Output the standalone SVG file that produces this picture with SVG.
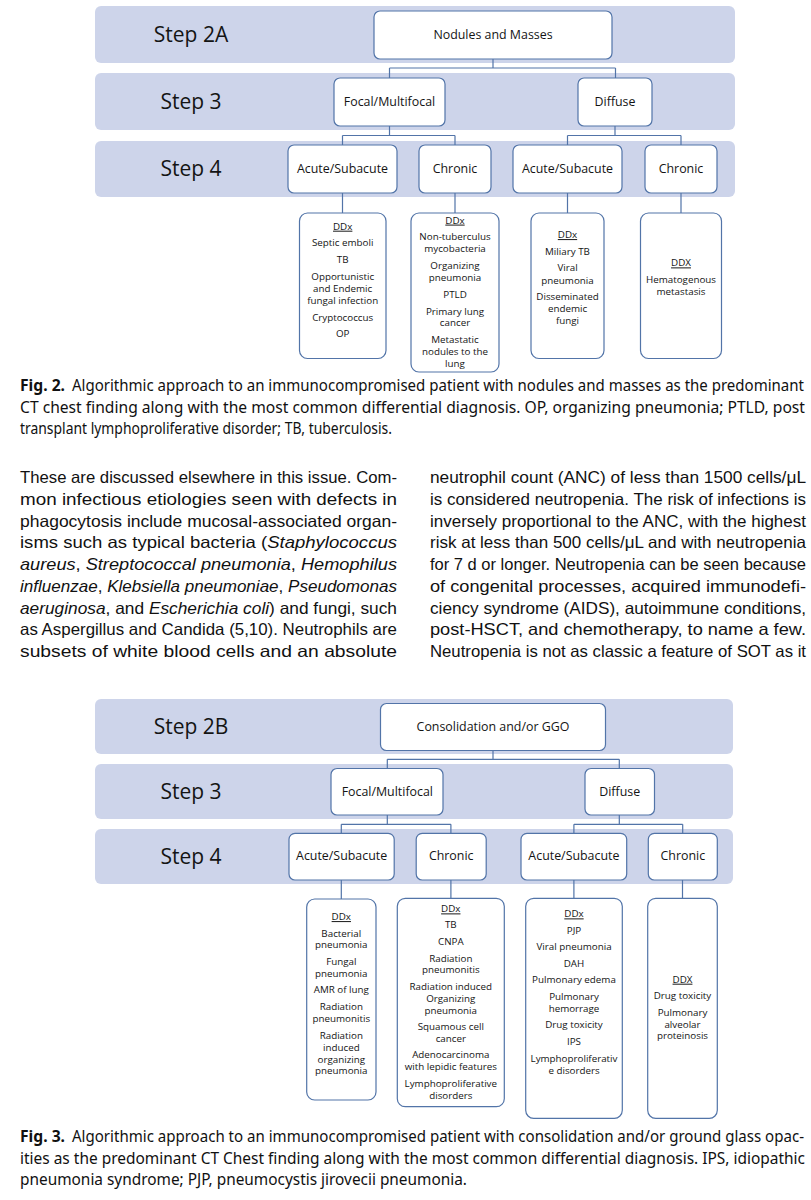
<svg xmlns="http://www.w3.org/2000/svg" width="811" height="1200" viewBox="0 0 811 1200">
<style>
.bg{fill:#ffffff}
.band{fill:#cdd4ea}
.box{fill:#ffffff;stroke:#5274a8;stroke-width:1.2}
.conn path{stroke:#5274a8;stroke-width:1.2;fill:none}
.step{font-family:"Open Sans","Noto Sans",sans-serif;font-size:21px;fill:#141414;text-anchor:middle}
.lbl{font-family:"Open Sans","Noto Sans",sans-serif;font-size:12.4px;fill:#141414;text-anchor:middle}
.dd{font-family:"Open Sans","Noto Sans",sans-serif;font-size:9.8px;fill:#141414;text-anchor:middle}
.u{text-decoration:underline}
.cap{font-family:"Noto Sans","Open Sans",sans-serif;font-size:15.5px;fill:#111}
.body{font-family:"Liberation Sans",Arial,sans-serif;font-size:16.5px;fill:#111}
.b{font-weight:bold}
.i{font-style:italic}
</style>
<rect class="bg" x="0" y="0" width="811" height="1200"/>

<!-- ===== Figure 2 ===== -->
<g id="fig2-bands">
<rect class="band" x="95" y="6" width="640" height="57" rx="6"/>
<rect class="band" x="95" y="73" width="640" height="57" rx="6"/>
<rect class="band" x="95" y="141" width="640" height="56" rx="6"/>
<text class="step" x="191" y="41.5">Step 2A</text>
<text class="step" x="191" y="109">Step 3</text>
<text class="step" x="191" y="176">Step 4</text>
</g>

<g id="fig2-connectors" class="conn">
<path d="M493 59V68M389.5 68H615.5M389.5 68V78M615.5 68V78"/>
<path d="M389.5 126V135.5M342.5 135.5H455M342.5 135.5V145M455 135.5V145"/>
<path d="M615 126V135.5M567.5 135.5H681M567.5 135.5V145M681 135.5V145"/>
<path d="M342.5 193V213M455 193V213M567.5 193V213M681 193V213"/>
</g>

<g id="f2-nodules"><rect class="box" x="374" y="11" width="238" height="48" rx="6"/><text class="lbl" x="493" y="39">Nodules and Masses</text></g>
<g id="f2-focal"><rect class="box" x="334" y="78" width="111" height="48" rx="6"/><text class="lbl" x="389.5" y="106">Focal/Multifocal</text></g>
<g id="f2-diffuse"><rect class="box" x="578" y="78" width="74" height="48" rx="6"/><text class="lbl" x="615" y="106">Diffuse</text></g>
<g id="f2-acute1"><rect class="box" x="288" y="145" width="109" height="48" rx="6"/><text class="lbl" x="342.5" y="172.7">Acute/Subacute</text></g>
<g id="f2-chronic1"><rect class="box" x="419" y="145" width="72" height="48" rx="6"/><text class="lbl" x="455" y="172.7">Chronic</text></g>
<g id="f2-acute2"><rect class="box" x="513" y="145" width="109" height="48" rx="6"/><text class="lbl" x="567.5" y="172.7">Acute/Subacute</text></g>
<g id="f2-chronic2"><rect class="box" x="645" y="145" width="72" height="48" rx="6"/><text class="lbl" x="681" y="172.7">Chronic</text></g>

<g id="f2-ddx1"><rect class="box" x="299.5" y="213" width="86.5" height="145.5" rx="8"/>
<text class="dd u" x="342.7" y="229.7">DDx</text>
<text class="dd" x="342.7" y="246.2">Septic emboli</text>
<text class="dd" x="342.7" y="263">TB</text>
<text class="dd" x="342.7" y="279.5">Opportunistic</text>
<text class="dd" x="342.7" y="292">and Endemic</text>
<text class="dd" x="342.7" y="303.7">fungal infection</text>
<text class="dd" x="342.7" y="320.6">Cryptococcus</text>
<text class="dd" x="342.7" y="337.1">OP</text>
</g>
<g id="f2-ddx2"><rect class="box" x="411" y="213" width="88" height="159" rx="8"/>
<text class="dd u" x="455" y="223.6">DDx</text>
<text class="dd" x="455" y="240.4">Non-tuberculus</text>
<text class="dd" x="455" y="252.2">mycobacteria</text>
<text class="dd" x="455" y="269.1">Organizing</text>
<text class="dd" x="455" y="281.2">pneumonia</text>
<text class="dd" x="455" y="298">PTLD</text>
<text class="dd" x="455" y="314.5">Primary lung</text>
<text class="dd" x="455" y="326.3">cancer</text>
<text class="dd" x="455" y="342.8">Metastatic</text>
<text class="dd" x="455" y="354.6">nodules to the</text>
<text class="dd" x="455" y="367.4">lung</text>
</g>
<g id="f2-ddx3"><rect class="box" x="531" y="213" width="73" height="145.5" rx="8"/>
<text class="dd u" x="567.5" y="238.1">DDx</text>
<text class="dd" x="567.5" y="254.9">Miliary TB</text>
<text class="dd" x="567.5" y="271.4">Viral</text>
<text class="dd" x="567.5" y="283.5">pneumonia</text>
<text class="dd" x="567.5" y="300.4">Disseminated</text>
<text class="dd" x="567.5" y="311.8">endemic</text>
<text class="dd" x="567.5" y="323.6">fungi</text>
</g>
<g id="f2-ddx4"><rect class="box" x="640.5" y="213" width="81" height="145.5" rx="8"/>
<text class="dd u" x="681" y="266.4">DDX</text>
<text class="dd" x="681" y="283.2">Hematogenous</text>
<text class="dd" x="681" y="294.6">metastasis</text>
</g>

<g id="fig2-caption">
<text class="cap b" x="20" y="391" textLength="45" lengthAdjust="spacingAndGlyphs">Fig. 2.</text>
<text class="cap" x="72" y="391" textLength="732" lengthAdjust="spacingAndGlyphs">Algorithmic approach to an immunocompromised patient with nodules and masses as the predominant</text>
<text class="cap" x="20" y="412.5" textLength="785" lengthAdjust="spacingAndGlyphs">CT chest finding along with the most common differential diagnosis. OP, organizing pneumonia; PTLD, post</text>
<text class="cap" x="20" y="434" textLength="372" lengthAdjust="spacingAndGlyphs">transplant lymphoproliferative disorder; TB, tuberculosis.</text>
</g>

<!-- ===== Body text ===== -->
<g id="body-left">
<text class="body" x="20" y="483" textLength="377" lengthAdjust="spacingAndGlyphs">These are discussed elsewhere in this issue. Com-</text>
<text class="body" x="20" y="504.75" textLength="377" lengthAdjust="spacingAndGlyphs">mon infectious etiologies seen with defects in</text>
<text class="body" x="20" y="526.5" textLength="377" lengthAdjust="spacingAndGlyphs">phagocytosis include mucosal-associated organ-</text>
<text class="body" x="20" y="548.25" textLength="377" lengthAdjust="spacingAndGlyphs">isms such as typical bacteria (<tspan class="i">Staphylococcus</tspan></text>
<text class="body" x="20" y="570" textLength="377" lengthAdjust="spacingAndGlyphs"><tspan class="i">aureus</tspan>, <tspan class="i">Streptococcal pneumonia</tspan>, <tspan class="i">Hemophilus</tspan></text>
<text class="body" x="20" y="591.75" textLength="377" lengthAdjust="spacingAndGlyphs"><tspan class="i">influenzae</tspan>, <tspan class="i">Klebsiella pneumoniae</tspan>, <tspan class="i">Pseudomonas</tspan></text>
<text class="body" x="20" y="613.5" textLength="377" lengthAdjust="spacingAndGlyphs"><tspan class="i">aeruginosa</tspan>, and <tspan class="i">Escherichia coli</tspan>) and fungi, such</text>
<text class="body" x="20" y="635.25" textLength="377" lengthAdjust="spacingAndGlyphs">as Aspergillus and Candida (5,10). Neutrophils are</text>
<text class="body" x="20" y="657" textLength="377" lengthAdjust="spacingAndGlyphs">subsets of white blood cells and an absolute</text>
</g>
<g id="body-right">
<text class="body" x="430" y="483" textLength="376" lengthAdjust="spacingAndGlyphs">neutrophil count (ANC) of less than 1500 cells/μL</text>
<text class="body" x="430" y="504.75" textLength="376" lengthAdjust="spacingAndGlyphs">is considered neutropenia. The risk of infections is</text>
<text class="body" x="430" y="526.5" textLength="376" lengthAdjust="spacingAndGlyphs">inversely proportional to the ANC, with the highest</text>
<text class="body" x="430" y="548.25" textLength="376" lengthAdjust="spacingAndGlyphs">risk at less than 500 cells/μL and with neutropenia</text>
<text class="body" x="430" y="570" textLength="376" lengthAdjust="spacingAndGlyphs">for 7 d or longer. Neutropenia can be seen because</text>
<text class="body" x="430" y="591.75" textLength="376" lengthAdjust="spacingAndGlyphs">of congenital processes, acquired immunodefi-</text>
<text class="body" x="430" y="613.5" textLength="376" lengthAdjust="spacingAndGlyphs">ciency syndrome (AIDS), autoimmune conditions,</text>
<text class="body" x="430" y="635.25" textLength="376" lengthAdjust="spacingAndGlyphs">post-HSCT, and chemotherapy, to name a few.</text>
<text class="body" x="430" y="657" textLength="376" lengthAdjust="spacingAndGlyphs">Neutropenia is not as classic a feature of SOT as it</text>
</g>

<!-- ===== Figure 3 ===== -->
<g id="fig3-bands">
<rect class="band" x="95" y="699" width="638" height="55" rx="6"/>
<rect class="band" x="95" y="764" width="638" height="55" rx="6"/>
<rect class="band" x="95" y="829" width="638" height="55" rx="6"/>
<text class="step" x="191" y="734.2">Step 2B</text>
<text class="step" x="191" y="799.2">Step 3</text>
<text class="step" x="191" y="863.5">Step 4</text>
</g>

<g id="fig3-connectors" class="conn">
<path d="M493 750.5V759.3M387.3 759.3H619.3M387.3 759.3V768.5M619.3 759.3V768.5"/>
<path d="M387.3 815V824.3M341.3 824.3H450.9M341.3 824.3V833.3M450.9 824.3V833.3"/>
<path d="M619.3 815V824.3M573.9 824.3H682.7M573.9 824.3V833.3M682.7 824.3V833.3"/>
<path d="M341.3 880V899M450.9 880V898.3M573.9 880V898.3M682.5 880V898.3"/>
</g>

<g id="f3-consol"><rect class="box" x="380.5" y="703.5" width="225" height="47" rx="6"/><text class="lbl" x="493" y="731.1">Consolidation and/or GGO</text></g>
<g id="f3-focal"><rect class="box" x="331" y="768.5" width="112" height="46.5" rx="6"/><text class="lbl" x="387.3" y="796.1">Focal/Multifocal</text></g>
<g id="f3-diffuse"><rect class="box" x="585" y="768.5" width="69.5" height="46.5" rx="6"/><text class="lbl" x="619.7" y="796.1">Diffuse</text></g>
<g id="f3-acute1"><rect class="box" x="289" y="833.3" width="105.2" height="46.7" rx="6"/><text class="lbl" x="341.6" y="860.4">Acute/Subacute</text></g>
<g id="f3-chronic1"><rect class="box" x="416.2" y="833.3" width="70" height="46.7" rx="6"/><text class="lbl" x="451.2" y="860.4">Chronic</text></g>
<g id="f3-acute2"><rect class="box" x="521" y="833.3" width="105.7" height="46.7" rx="6"/><text class="lbl" x="573.9" y="860.4">Acute/Subacute</text></g>
<g id="f3-chronic2"><rect class="box" x="648.3" y="833.3" width="69" height="46.7" rx="6"/><text class="lbl" x="682.8" y="860.4">Chronic</text></g>

<g id="f3-ddx1"><rect class="box" x="306.7" y="899" width="69.3" height="201" rx="8"/>
<text class="dd u" x="341.3" y="920.1">DDx</text>
<text class="dd" x="341.3" y="936.7">Bacterial</text>
<text class="dd" x="341.3" y="948.4">pneumonia</text>
<text class="dd" x="341.3" y="965.1">Fungal</text>
<text class="dd" x="341.3" y="976.7">pneumonia</text>
<text class="dd" x="341.3" y="993.4">AMR of lung</text>
<text class="dd" x="341.3" y="1010.1">Radiation</text>
<text class="dd" x="341.3" y="1022.1">pneumonitis</text>
<text class="dd" x="341.3" y="1038.7">Radiation</text>
<text class="dd" x="341.3" y="1050.7">induced</text>
<text class="dd" x="341.3" y="1062.7">organizing</text>
<text class="dd" x="341.3" y="1074.4">pneumonia</text>
</g>
<g id="f3-ddx2"><rect class="box" x="397.3" y="898.3" width="107" height="208.4" rx="8"/>
<text class="dd u" x="450.8" y="912.4">DDx</text>
<text class="dd" x="450.8" y="928.4">TB</text>
<text class="dd" x="450.8" y="945.1">CNPA</text>
<text class="dd" x="450.8" y="961.7">Radiation</text>
<text class="dd" x="450.8" y="973.4">pneumonitis</text>
<text class="dd" x="450.8" y="990.1">Radiation induced</text>
<text class="dd" x="450.8" y="1002.1">Organizing</text>
<text class="dd" x="450.8" y="1013.7">pneumonia</text>
<text class="dd" x="450.8" y="1030.4">Squamous cell</text>
<text class="dd" x="450.8" y="1042.1">cancer</text>
<text class="dd" x="450.8" y="1058.4">Adenocarcinoma</text>
<text class="dd" x="450.8" y="1070.1">with lepidic features</text>
<text class="dd" x="450.8" y="1087.1">Lymphoproliferative</text>
<text class="dd" x="450.8" y="1099.1">disorders</text>
</g>
<g id="f3-ddx3"><rect class="box" x="525.7" y="898.3" width="96.6" height="220" rx="8"/>
<text class="dd u" x="574" y="917.4">DDx</text>
<text class="dd" x="574" y="933.7">PJP</text>
<text class="dd" x="574" y="950.1">Viral pneumonia</text>
<text class="dd" x="574" y="966.7">DAH</text>
<text class="dd" x="574" y="983.4">Pulmonary edema</text>
<text class="dd" x="574" y="1000.1">Pulmonary</text>
<text class="dd" x="574" y="1011.7">hemorrage</text>
<text class="dd" x="574" y="1028.4">Drug toxicity</text>
<text class="dd" x="574" y="1045.1">IPS</text>
<text class="dd" x="574" y="1061.7">Lymphoproliferativ</text>
<text class="dd" x="574" y="1073.7">e disorders</text>
</g>
<g id="f3-ddx4"><rect class="box" x="647.7" y="898.3" width="69.6" height="220" rx="8"/>
<text class="dd u" x="682.5" y="982.7">DDX</text>
<text class="dd" x="682.5" y="999.4">Drug toxicity</text>
<text class="dd" x="682.5" y="1015.7">Pulmonary</text>
<text class="dd" x="682.5" y="1027.7">alveolar</text>
<text class="dd" x="682.5" y="1039.4">proteinosis</text>
</g>

<g id="fig3-caption">
<text class="cap b" x="20" y="1142" textLength="45" lengthAdjust="spacingAndGlyphs">Fig. 3.</text>
<text class="cap" x="72" y="1142" textLength="732" lengthAdjust="spacingAndGlyphs">Algorithmic approach to an immunocompromised patient with consolidation and/or ground glass opac-</text>
<text class="cap" x="20" y="1163.5" textLength="785" lengthAdjust="spacingAndGlyphs">ities as the predominant CT Chest finding along with the most common differential diagnosis. IPS, idiopathic</text>
<text class="cap" x="20" y="1185" textLength="447" lengthAdjust="spacingAndGlyphs">pneumonia syndrome; PJP, pneumocystis jirovecii pneumonia.</text>
</g>
</svg>
